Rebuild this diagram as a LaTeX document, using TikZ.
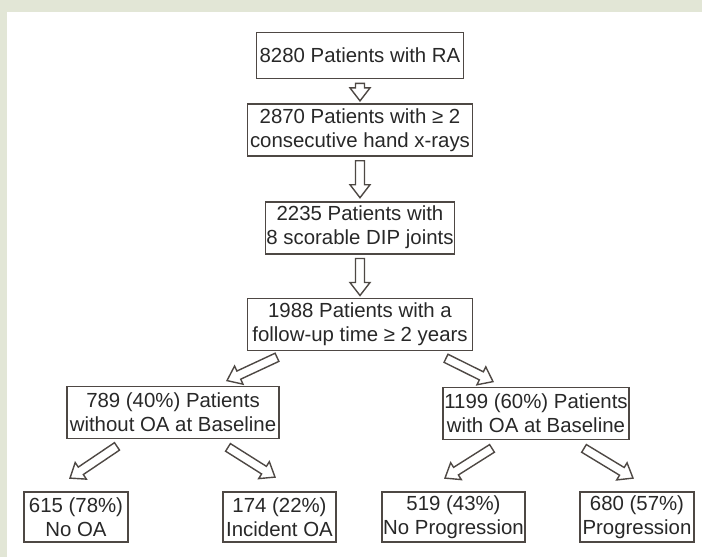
\documentclass[tikz,border=0pt]{standalone}
\usepackage{fontspec}
\setmainfont{Liberation Sans}
\usetikzlibrary{positioning,calc}
\definecolor{bggreen}{RGB}{226,230,214}
\definecolor{boxgray}{RGB}{78,72,68}
\definecolor{txtgray}{RGB}{40,40,40}
\begin{document}
\begin{tikzpicture}[
        x=1pt, y=-1pt,
        box/.style={rectangle, draw=boxgray, line width=1.8pt, fill=white, inner sep=1pt, minimum height=52pt, align=center, text=txtgray, font=\fontsize{20.4}{24}\selectfont},
        leaf/.style={box, minimum height=50pt},
        hollow/.style={draw=boxgray, line width=1.4pt, fill=white, line join=miter,
            to path={let \p1=(\tikztostart), \p2=(\tikztotarget),
                \n1={atan2(\y2-\y1,\x2-\x1)}, \n2={veclen(\x2-\x1,\y2-\y1)} in
                {[shift={(\p1)}, rotate=\n1]
                (0pt,4.5pt) -- (\n2*1pt-13pt,4.5pt) -- (\n2*1pt-13pt,10pt) -- (\n2*1pt,0pt)
                -- (\n2*1pt-13pt,-10pt) -- (\n2*1pt-13pt,-4.5pt) -- (0pt,-4.5pt) -- cycle}}}
    ]
        % frame
        \fill[bggreen] (0,0) rectangle (702,557);
        \fill[white] (7,12) rectangle (702,557);

        % Selection chain
        \node[box, minimum width=207pt, minimum height=46pt] (ra) at (360,55.5) {8280 Patients with RA};
        \node[box, below=23.5pt of ra, minimum width=225pt] (xray) {2870 Patients with ≥ 2\\consecutive hand x-rays};
        \node[box, below=44pt of xray, minimum width=188pt] (dip) {2235 Patients with\\8 scorable DIP joints};
        \node[box, below=43pt of dip, minimum width=225pt] (fu) {1988 Patients with a\\follow-up time ≥ 2 years};

        % Baseline groups
        \node[box, minimum width=212pt] (nooa) at (173,412.5) {789 (40\%) Patients\\without OA at Baseline};
        \node[box, minimum width=184pt] (withoa) at (536,413.5) {1199 (60\%) Patients\\with OA at Baseline};

        % Outcomes
        \node[leaf, minimum width=104pt] (noa) at (76,517) {615 (78\%)\\No OA};
        \node[leaf, minimum width=113pt] (incid) at (279.5,517) {174 (22\%)\\Incident OA};
        \node[leaf, minimum width=143pt] (noprog) at (453.5,517) {519 (43\%)\\No Progression};
        \node[leaf, minimum width=114pt] (prog) at (637,517) {680 (57\%)\\Progression};

        % Arrows
        \draw[hollow] ([yshift=-4pt]ra.south) to ([yshift=2pt]xray.north);
        \draw[hollow] ([yshift=-4pt]xray.south) to ([yshift=3pt]dip.north);
        \draw[hollow] ([yshift=-4pt]dip.south) to ([yshift=2pt]fu.north);
        \draw[hollow] ([shift={(-83pt,-6pt)}]fu.south) to ([shift={(54pt,5pt)}]nooa.north);
        \draw[hollow] ([shift={(86pt,-7pt)}]fu.south) to ([shift={(-43pt,5pt)}]withoa.north);
        \draw[hollow] ([shift={(-56pt,-7pt)}]nooa.south) to ([shift={(-6pt,13pt)}]noa.north);
        \draw[hollow] ([shift={(55pt,-8pt)}]nooa.south) to ([shift={(-4.5pt,14pt)}]incid.north);
        \draw[hollow] ([shift={(-44pt,-8pt)}]withoa.south) to ([shift={(-8.5pt,13pt)}]noprog.north);
        \draw[hollow] ([shift={(48pt,-8pt)}]withoa.south) to ([shift={(-4pt,13pt)}]prog.north);
\end{tikzpicture}
\end{document}
